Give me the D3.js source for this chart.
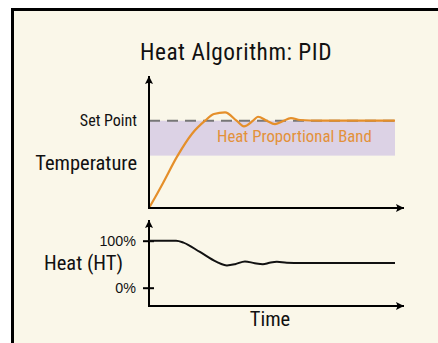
<!DOCTYPE html>
<html>
<head>
<meta charset="utf-8">
<script src="https://cdn.jsdelivr.net/npm/d3@7"></script>
<style>
  html, body { margin: 0; padding: 0; background: #ffffff; }
  svg { display: block; }
  text { font-family: "Roboto Condensed", "Liberation Sans Narrow", "Arial Narrow", sans-serif; }
  .tick text { font-family: "Liberation Sans", Arial, sans-serif; }
</style>
</head>
<body>
<svg id="chart" width="438" height="343"></svg>
<script>
// Time runs 0..100 across both panels
const tempTime  = [0, 2.8, 5.7, 11.4, 17.5, 22.8, 26.4, 30.9, 35.6, 38.6, 42.3, 44.3, 47.8, 51.2, 54.1, 57.7, 61.4, 69.5, 100];
const tempValue = [0, 13.7, 28.6, 58.8, 85.1, 100, 107.7, 109.5, 100, 93.5, 100, 104.5, 100, 96, 99, 103, 100.8, 100, 100];

const heatTime  = [0, 11, 14, 20.7, 27.5, 31.7, 35, 39, 43, 46.3, 49, 52, 56, 62, 100];
const heatValue = [100, 100, 96, 76, 55, 47.5, 50, 56, 52, 50, 53, 55, 53, 52.6, 52.6];

const setPoint = 100;
const bandLow = 60;
const heatTicks = [0, 100];
const heatTickLabels = ["0%", "100%"];

const svg = d3.select("#chart");

// panel background and frame
svg.append("rect").attr("x", 12.5).attr("y", 9.5).attr("width", 440).attr("height", 350)
  .attr("fill", "#faf7e9").attr("stroke", "#000").attr("stroke-width", 3);

svg.append("text").attr("x", 236).attr("y", 60).attr("text-anchor", "middle")
  .attr("font-size", 23.3).attr("letter-spacing", 0.55).attr("fill", "#111")
  .text("Heat Algorithm: PID");

const x = d3.scaleLinear().domain([0, 100]).range([149, 395]);
const xAxisEnd = 404;

// ---- temperature panel ----
const yT = d3.scaleLinear().domain([0, 100]).range([208, 120.7]);

// proportional band
svg.append("rect")
  .attr("x", x(0)).attr("y", yT(setPoint))
  .attr("width", x(100) - x(0)).attr("height", yT(bandLow) - yT(setPoint))
  .attr("fill", "#dcd2e5");

svg.append("line")
  .attr("x1", x(0)).attr("x2", x(100)).attr("y1", yT(setPoint)).attr("y2", yT(setPoint))
  .attr("stroke", "#777").attr("stroke-width", 2).attr("stroke-dasharray", "11,7");

svg.append("text").attr("x", 217).attr("y", 141.5)
  .attr("font-size", 16.8).attr("fill", "#e3913a").text("Heat Proportional Band");

const tempLine = d3.line().x((d, i) => x(tempTime[i])).y(d => yT(d)).curve(d3.curveMonotoneX);
svg.append("path").datum(tempValue).attr("d", tempLine)
  .attr("fill", "none").attr("stroke", "#e58f2a").attr("stroke-width", 2.2);

// arrows
const defs = svg.append("defs");
defs.append("marker").attr("id", "arrow").attr("viewBox", "0 0 10 10")
  .attr("refX", 10).attr("refY", 5).attr("markerWidth", 12).attr("markerHeight", 8)
  .attr("markerUnits", "userSpaceOnUse").attr("orient", "auto")
  .append("path").attr("d", "M0,0 L10,5 L0,10 L2,5 Z").attr("fill", "#000");

function axes(yTop, yBottom) {
  svg.append("line").attr("x1", x(0)).attr("x2", x(0)).attr("y1", yBottom).attr("y2", yTop)
    .attr("stroke", "#000").attr("stroke-width", 2).attr("marker-end", "url(#arrow)");
  svg.append("line").attr("x1", x(0) - 1).attr("x2", xAxisEnd).attr("y1", yBottom).attr("y2", yBottom)
    .attr("stroke", "#000").attr("stroke-width", 2).attr("marker-end", "url(#arrow)");
}
axes(76, yT(0));

svg.append("text").attr("x", 137).attr("y", yT(setPoint) + 5.5).attr("text-anchor", "end")
  .attr("font-size", 16).attr("fill", "#111").text("Set Point");
svg.append("text").attr("x", 137).attr("y", 170).attr("text-anchor", "end")
  .attr("font-size", 20.5).attr("fill", "#111").text("Temperature");

// ---- heat output panel ----
const yH = d3.scaleLinear().domain([0, 100]).range([287.7, 240.7]);
axes(220, 306);

const hAxis = d3.axisLeft(yH).tickValues(heatTicks).tickFormat((d, i) => heatTickLabels[i])
  .tickSizeInner(0).tickSizeOuter(0).tickPadding(13);
const hg = svg.append("g").attr("transform", `translate(${x(0)},0)`).call(hAxis);
hg.select(".domain").remove();
hg.selectAll(".tick line").attr("x1", -6).attr("x2", 5).attr("stroke", "#000").attr("stroke-width", 2);
hg.selectAll(".tick text").attr("font-size", 14.3).attr("fill", "#111");

const heatLine = d3.line().x((d, i) => x(heatTime[i])).y(d => yH(d)).curve(d3.curveMonotoneX);
svg.append("path").datum(heatValue).attr("d", heatLine)
  .attr("fill", "none").attr("stroke", "#111").attr("stroke-width", 2);

svg.append("text").attr("x", 123).attr("y", 270).attr("text-anchor", "end")
  .attr("font-size", 20.5).attr("fill", "#111").text("Heat (HT)");

svg.append("text").attr("x", 270).attr("y", 326).attr("text-anchor", "middle")
  .attr("font-size", 20.5).attr("fill", "#111").text("Time");
</script>
</body>
</html>
